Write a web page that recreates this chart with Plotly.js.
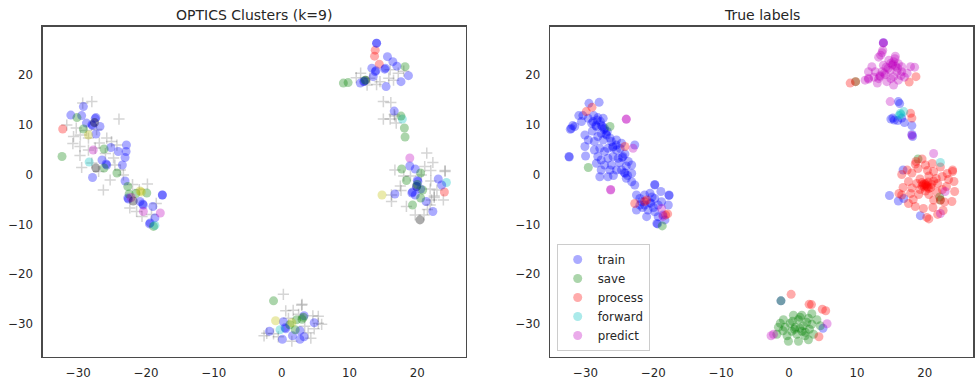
<!DOCTYPE html>
<html>
<head>
<meta charset="utf-8">
<script src="https://cdn.plot.ly/plotly-3.0.1.min.js"></script>
<style>
  html, body { margin: 0; padding: 0; background: #fff; }
  #chart { width: 977px; height: 383px; }
</style>
</head>
<body>
<div id="chart"></div>
<script>
// ---- t-SNE embedding, coloured by OPTICS cluster (left panel) ----
// cluster colours follow the matplotlib "bgrcmyk" cycle
const clusterColors = ['#0000ff', '#008000', '#ff0000', '#00bfbf', '#bf00bf', '#bfbf00', '#000000', '#0000ff', '#008000'];

const cluster0 = [[-29.25,13.6],[-31.1,11.9],[-29.5,11.8],[-27.4,11.4],[-27.5,11.2],[-27.9,9.8],[-28.0,10.0],[-26.8,9.6],[-27.4,8.1],[-28.8,10.3],
  [-22.9,5.9],[-22.95,4.6],[-23.1,3.4],[-23.5,1.9],[-24.1,4.6],[-25.2,5.4],[-26.5,2.9],[-25.8,1.9],[-25.9,2.1],[-27.9,-0.6],[-23.1,-1.3],
  [-22.7,-4.7],[-22.6,-4.9],[-20.9,-5.4],[-20.4,-6.1],[-20.5,-5.9],[-17.6,-4.1],[-17.6,-4.1],[-19.0,-6.4],[-18.7,-8.7],[-19.4,-9.7],[-19.5,-9.9],
  [3.3,-28.3],[4.8,-29.7],[0.25,-29.5],[-1.8,-31.4],[0.1,-33.0],[1.6,-32.3],[2.7,-31.3],[2.7,-33.0],[3.3,-32.5],[0.5,-30.7],[0.6,-30.9]];
const cluster1 = [[-30.2,11.4],[-29.25,9.1],[-32.4,3.6],[-26.2,5.1],[-24.3,0.3],[-26.2,1.3],[-22.7,-2.4],[-19.9,-3.7],[-21.5,-3.8],[-18.9,-10.4],[-22.5,-3.9],
  [-1.2,-25.3],[3.2,-28.6],[2.2,-29.1],[1.2,-30.1],[2.0,-31.1],[3.0,-29.0]];
const cluster2 = [[-32.3,9.1],[13.8,24.9],[13.7,23.7],[14.4,22.1],[24.0,-3.5]];
const cluster3 = [[-28.4,2.5],[-18.7,-10.2],[17.8,11.1],[24.3,-1.6],[-0.25,-31.1]];
const cluster4 = [[-27.8,4.9],[-20.4,-7.4],[-17.9,-7.7],[18.9,3.3],[-22.2,-4.6]];
const cluster5 = [[-28.5,7.9],[-20.7,-3.5],[-20.9,-3.3],[14.8,-4.1],[-0.9,-29.3],[1.5,-29.7]];
const cluster6 = [[-27.4,1.3],[-21.9,-5.3],[12.4,18.9],[20.4,-9.1],[19.9,-2.4],[-27.6,10.4]];
const cluster7 = [[14.0,26.3],[14.0,26.3],[15.6,23.6],[16.4,22.6],[17.0,21.7],[15.2,21.1],[15.3,21.3],[13.8,20.6],[13.9,20.8],[13.3,21.3],[13.5,19.6],
  [12.1,18.6],[12.2,18.7],[11.6,18.3],[17.6,18.6],[18.7,19.8],[15.4,17.6],[16.6,12.7],
  [18.9,1.7],[19.7,1.1],[20.0,-1.2],[20.1,-1.4],[19.2,-3.7],[19.3,-3.5],[20.5,-2.9],[19.7,-4.1],[16.7,-3.9],[21.3,-5.4],[22.3,-7.4],[23.1,-0.9],[23.6,-2.1],[19.9,-2.4]];
const cluster8 = [[18.2,21.6],[9.1,18.3],[9.8,18.4],[12.3,18.9],[17.6,11.7],[18.1,9.3],[18.2,7.5],
  [17.7,1.1],[18.4,-1.2],[20.5,0.3],[20.8,-3.1],[20.5,-4.7],[19.3,-6.1],[20.0,-2.0]];
const clusters = [cluster0, cluster1, cluster2, cluster3, cluster4, cluster5, cluster6, cluster7, cluster8];

// points OPTICS left unassigned
const noise = [[-29.35,14.3],[-28.0,14.6],[-24.0,11.1],[-31.7,9.9],[-29.7,7.9],[-28.5,7.3],[-29.75,5.6],[-29.75,3.8],[-28.5,4.9],[-29.5,1.4],
  [-25.8,7.3],[-25.1,6.6],[-24.3,5.9],[-26.9,6.3],[-27.5,5.3],[-24.8,3.3],[-23.8,0.9],[-26.3,-3.1],[-23.35,-0.1],[-19.8,-1.9],[-22.4,-6.7],
  [-21.4,-7.4],[-20.6,-8.4],[-27.0,0.6],[-28.0,2.3],[-30.7,7.6],[-25.3,-1.1],[-30.3,9.3],[-28.8,8.8],[-26.0,4.2],[-24.6,1.9],[-22.0,-2.0],
  [-18.5,-5.8],[-19.2,-8.0],[-21.0,-3.0],[-30.8,6.2],[-27.3,9.0],
  [11.65,20.3],[17.2,20.3],[16.5,18.9],[14.5,18.6],[15.8,19.3],[13.0,19.3],[16.0,21.0],[12.6,17.9],[18.0,20.7],[14.0,18.0],[11.0,19.4],
  [15.0,14.6],[16.1,14.4],[15.0,11.1],[16.0,11.1],[16.7,11.7],[16.9,10.3],[16.6,12.0],
  [21.4,4.3],[22.3,2.4],[24.1,0.8],[24.1,0.6],[21.1,1.6],[22.0,0.8],[16.7,0.9],[18.0,-0.3],[20.6,-0.1],[22.0,-1.3],[22.9,-3.1],[23.85,-5.1],
  [21.9,-6.1],[22.1,-5.1],[17.5,-2.3],[16.2,-5.4],[16.2,-4.1],[18.4,-6.4],[19.7,-8.1],[21.0,-8.1],[21.5,-7.0],[21.9,-2.9],[19.0,-0.3],
  [17.6,-3.2],[22.5,-4.6],[22.5,-4.3],
  [0.25,-24.0],[2.95,-26.2],[3.0,-26.0],[0.6,-27.3],[1.7,-27.2],[4.6,-28.3],[5.4,-28.4],[5.4,-29.8],[4.8,-30.9],[3.9,-31.7],[4.3,-32.8],
  [-2.6,-32.3],[-1.2,-31.9],[1.5,-33.4],[3.4,-30.4],[-0.5,-32.5],[1.0,-28.8],[2.5,-28.0],[5.9,-30.0],[-2.2,-31.8]];

// ---- same embedding, coloured by true label (right panel) ----
const labelNames = ['train', 'save', 'process', 'forward', 'predict'];
const labelColors = ['#0000ff', '#008000', '#ff0000', '#00bfbf', '#bf00bf'];

const train = [[-29.5,14.25],[-28.0,14.45],[-31.0,11.8],[-30.4,11.8],[-29.6,11.25],[-28.8,11.8],[-28.2,11.4],[-27.4,11.25],[-31.9,9.8],
  [-32.25,9.05],[-32.1,9.2],[-31.6,9.6],[-29.1,10.25],[-28.4,9.6],[-28.5,9.8],[-27.7,9.9],[-27.2,9.25],[-27.3,9.0],[-27.7,8.25],[-26.9,7.9],
  [-27.0,8.1],[-28.2,7.6],[-30.1,7.9],[-29.6,6.9],[-28.7,6.6],[-27.4,6.9],[-26.2,6.6],[-25.45,6.9],[-24.7,6.25],[-25.95,5.6],[-26.0,5.4],
  [-22.75,5.9],[-30.1,5.6],[-28.7,4.9],[-27.9,5.25],[-27.2,4.6],[-26.7,5.25],[-25.45,4.9],[-32.45,3.6],[-32.4,3.5],[-30.0,3.7],[-28.2,3.6],
  [-27.7,2.9],[-26.7,3.25],[-25.95,3.6],[-25.2,3.25],[-24.5,3.6],[-24.6,3.4],[-23.7,2.6],[-23.2,1.9],[-28.4,2.25],[-27.2,1.9],[-26.2,1.9],
  [-27.7,0.9],[-26.4,0.9],[-25.45,0.9],[-24.7,0.9],[-24.2,0.25],[-24.3,0.4],[-23.2,0.25],[-27.9,-0.45],[-26.7,-0.45],[-24.0,-0.75],
  [-23.2,-1.45],[-22.75,-2.1],[-19.8,-2.1],[-19.8,-2.0],[-22.5,-4.1],[-21.3,-4.1],[-20.5,-3.75],[-21.75,-5.45],[-19.8,-4.8],[-19.3,-6.1],
  [-17.7,-4.1],[-17.7,-4.2],[-18.8,-5.45],[-17.8,-6.1],[-22.5,-7.1],[-20.8,-7.1],[-19.8,-7.45],[-19.3,-8.45],[-18.6,-8.1],[-21.0,-8.45],
  [-19.5,-9.8],[-19.4,-9.9],[-18.3,-9.1],[-21.3,-6.1],[-20.4,-5.8],[-20.5,-5.6],[-22.0,-6.1],
  [-28.9,10.6],[-28.3,10.9],[-27.8,10.6],[-27.5,9.6],[-26.8,8.6],[-26.4,7.3],[-25.5,5.9],[-24.9,5.2],[-24.2,4.1],[-25.0,2.4],[-24.0,1.7],
  [-23.8,-0.2],[-25.9,-0.2],[-22.0,-4.8],[-21.6,-6.6],[-20.2,-4.5],[-20.0,-6.6],[-18.9,-3.4],[-30.6,10.6],[-29.0,8.7],
  [13.9,26.4],[16.1,14.6],[16.3,14.2],[15.3,11.3],[16.0,10.8],[17.0,10.4],[16.6,11.3],[18.1,9.8],[18.1,8.0],[18.2,7.6],[15.0,11.1],[15.5,10.9],
  [16.8,0.9],[14.8,-4.2],[16.1,-5.3],[16.9,-4.8],[19.35,-8.25],
  [-1.2,-25.3],[5.0,-30.8]];
const save = [[-26.4,9.6],[-29.6,1.4],[-18.7,-10.3],[9.8,18.6],[19.0,3.1],[22.2,-4.5],[22.3,-5.1],[-1.2,-25.3],
  [-0.84,-29.1],[0.64,-28.2],[1.87,-28.2],[3.35,-27.9],[4.1,-29.1],[2.85,-28.8],[1.38,-29.1],[0.15,-29.8],[-1.57,-30.6],[-0.59,-30.6],
  [0.9,-30.6],[2.1,-30.3],[3.35,-30.0],[4.6,-30.3],[-1.8,-32.0],[-0.3,-32.3],[1.13,-32.0],[2.36,-32.3],[3.6,-32.0],[-0.1,-33.4],[1.38,-33.4],
  [2.85,-33.1],[0.4,-31.4],[1.9,-31.4],[-1.3,-29.8],[1.6,-30.8],[0.8,-31.0],[2.4,-31.6],
  [0.5,-29.4],[2.6,-29.6],[-0.9,-31.3],[3.0,-31.0],[1.6,-28.6]];
const process = [[-29.9,12.6],[-29.05,13.45],[-24.2,5.6],[-22.75,-5.8],[-21.0,-5.1],[-21.3,-5.4],[-17.9,-7.9],[-18.2,-8.1],
  [9.0,18.3],[9.8,18.6],[18.7,19.6],[17.7,18.5],[17.9,12.25],[18.1,11.3],
  [20.1,-2.1],[20.0,-1.8],[20.3,-2.3],[19.9,-2.5],[20.5,-1.5],[19.6,-1.6],[20.6,-2.8],[21.0,-2.0],[19.6,3.1],[18.7,2.6],[17.4,0.9],
  [16.2,-3.8],[16.6,-4.1],[20.3,-8.6],[20.6,-8.9],[24.1,0.9],[24.1,0.6],[24.3,-1.4],[24.4,-3.4],[24.0,-5.4],[21.3,-5.1],[22.3,-5.1],
  [20.6,-4.0],[19.1,-4.0],[18.1,-2.7],[17.6,-1.4],[16.6,0.0],[18.1,0.3],[18.6,2.1],[20.1,1.9],[21.1,2.2],[21.3,0.6],[22.3,1.5],[23.3,0.2],
  [22.6,-0.4],[21.9,-1.8],[20.9,-2.6],[19.6,-2.3],[18.8,-1.8],[19.3,-0.9],[20.6,-0.3],[20.1,-3.3],[22.9,-5.5],[21.2,-6.6],[18.6,-6.4],
  [19.8,-6.8],[17.6,-5.8],[21.8,-3.5],[23.2,-2.4],[22.6,-3.0],[17.9,-3.8],[16.8,-2.6],[19.0,1.2],[20.4,0.8],[21.7,-0.8],[22.7,-7.2],
  [21.9,-8.0],[18.3,-5.0],[23.5,-1.0],[20.2,-1.9],[20.4,-2.5],[19.8,-2.0],[21.3,-1.3],[19.3,-3.0],
  [0.3,-24.0],[2.95,-26.0],[3.3,-26.05],[4.9,-27.0],[5.4,-27.3],[4.4,-32.5]];
const forward = [[16.4,12.25],[16.5,12.0],[16.9,12.6],[16.2,11.8],[22.3,2.4]];
const predict = [[-24.0,11.05],[-24.0,11.1],[-23.0,5.25],[-26.3,-3.1],[-26.3,-3.0],[-18.8,-6.8],[-18.6,-8.4],
  [13.9,26.4],[13.9,26.3],[13.8,24.9],[13.7,24.4],[13.5,23.9],[13.2,23.5],[14.7,22.9],[15.6,23.2],[15.66,23.7],[15.2,21.9],[15.3,22.1],
  [15.0,22.3],[16.1,22.2],[16.6,21.6],[17.9,21.6],[18.5,21.5],[11.7,19.1],[11.7,19.3],[13.4,19.6],[13.4,19.8],[11.7,20.6],[12.7,20.6],
  [13.7,20.6],[14.2,20.0],[15.4,19.6],[16.1,18.9],[15.4,17.9],[14.4,18.6],[13.0,18.3],[11.2,18.9],[12.2,21.6],[16.6,20.6],[17.4,20.3],
  [15.9,20.6],[14.9,20.9],[13.9,21.9],[15.4,22.6],[14.6,21.3],[16.0,21.3],[12.5,19.5],[15.0,19.2],[17.0,19.5],[16.5,19.8],
  [14.3,21.5],[15.7,21.7],[13.2,19.2],[14.0,20.3],
  [14.9,14.6],[18.1,7.8],[21.3,4.2],[22.3,-7.8],[23.0,-3.4],
  [5.6,-29.9],[-2.66,-32.3],[-2.3,-32.0]];
const labelPoints = [train, save, process, forward, predict];

const tickVals = [-30, -20, -10, 0, 10, 20];

const textColor = '#262626';
const fontFamily = 'DejaVu Sans, sans-serif';
const markerSize = 9;
const markerAlpha = 0.33;

const xs = pts => pts.map(p => p[0]);
const ys = pts => pts.map(p => p[1]);

const traces = [];

// left panel: unassigned points as light crosses, clusters as translucent dots
traces.push({
  type: 'scatter', mode: 'markers', xaxis: 'x', yaxis: 'y', showlegend: false,
  x: xs(noise), y: ys(noise), hoverinfo: 'skip',
  marker: { symbol: 'cross-thin', size: 8, opacity: 0.16, color: '#000', line: { color: '#000', width: 1.5 } }
});
clusters.forEach((pts, i) => {
  traces.push({
    type: 'scatter', mode: 'markers', xaxis: 'x', yaxis: 'y', showlegend: false,
    name: 'cluster ' + i, x: xs(pts), y: ys(pts),
    marker: { size: markerSize, color: clusterColors[i], opacity: markerAlpha, line: { width: 0 } }
  });
});

// right panel: true labels, with the legend
labelPoints.forEach((pts, i) => {
  traces.push({
    type: 'scatter', mode: 'markers', xaxis: 'x2', yaxis: 'y2', showlegend: true,
    name: labelNames[i], x: xs(pts), y: ys(pts),
    marker: { size: markerSize, color: labelColors[i], opacity: markerAlpha, line: { width: 0 } }
  });
});

const xRange = [-35.25, 27.15];
const yRange = [-36.55, 29.6];

function axis(domain, range, anchor, standoff) {
  return {
    domain: domain, range: range, anchor: anchor,
    tickmode: 'array', tickvals: tickVals,
    showgrid: false, zeroline: false, ticks: '',
    showline: true, mirror: true, linecolor: '#4a4a4a', linewidth: 1.25,
    tickfont: { family: fontFamily, size: 11.8, color: textColor },
    ticklabelstandoff: standoff
  };
}

const leftX = [0.0437, 0.4767];
const rightX = [0.5629, 0.9962];
const plotY = [0.0679, 0.9303];

const layout = {
  width: 977, height: 383,
  margin: { l: 0, r: 0, t: 0, b: 0 },
  paper_bgcolor: '#ffffff', plot_bgcolor: '#ffffff',
  font: { family: fontFamily, color: textColor },
  xaxis: axis(leftX, xRange, 'y', 5),
  yaxis: axis(plotY, yRange, 'x', 6),
  xaxis2: axis(rightX, xRange, 'y2', 5),
  yaxis2: axis(plotY, yRange, 'x2', 6),
  showlegend: true,
  legend: {
    x: 0.5698, y: 0.0836, xanchor: 'left', yanchor: 'bottom',
    bgcolor: '#ffffff', bordercolor: '#cccccc', borderwidth: 1,
    font: { family: fontFamily, size: 11.8, color: textColor },
    tracegroupgap: 0
  },
  annotations: [
    { text: 'OPTICS Clusters (k=9)', xref: 'paper', yref: 'paper', x: (leftX[0] + leftX[1]) / 2, y: 1 - 15 / 383,
      xanchor: 'center', yanchor: 'middle', showarrow: false, font: { family: fontFamily, size: 14, color: textColor } },
    { text: 'True labels', xref: 'paper', yref: 'paper', x: (rightX[0] + rightX[1]) / 2, y: 1 - 15 / 383,
      xanchor: 'center', yanchor: 'middle', showarrow: false, font: { family: fontFamily, size: 14, color: textColor } }
  ]
};

Plotly.newPlot('chart', traces, layout, { displayModeBar: false, staticPlot: true });
</script>
</body>
</html>
